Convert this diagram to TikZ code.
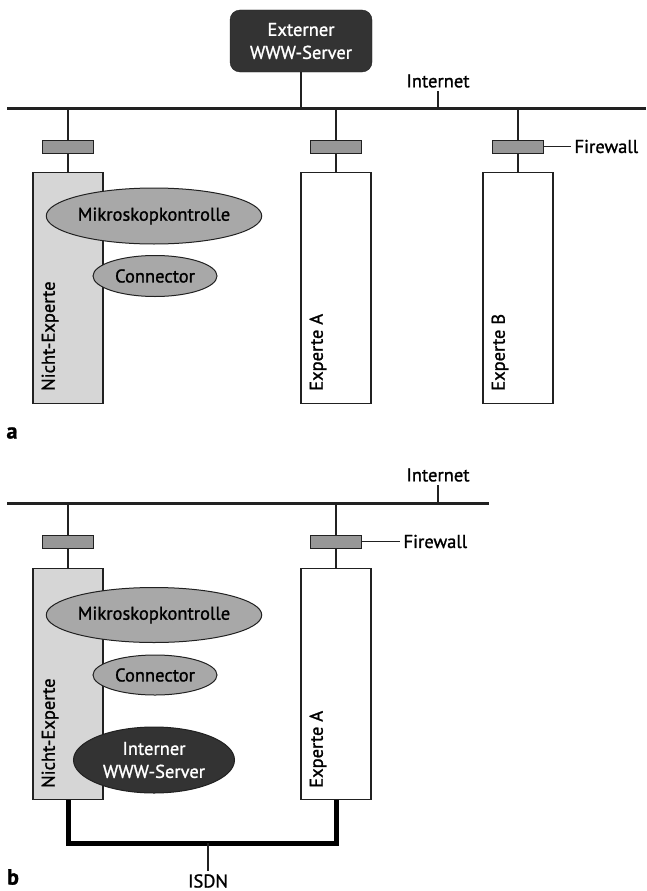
\documentclass[tikz,border=0pt]{standalone}
\usepackage{fontspec}
\setmainfont{PT Sans}[FakeBold=1.2]
\usetikzlibrary{shapes, positioning}
\definecolor{dunkel}{rgb}{0.2, 0.2, 0.2}
\definecolor{hellgrau}{rgb}{0.84, 0.84, 0.84}
\definecolor{mittelgrau}{rgb}{0.66, 0.66, 0.66}
\definecolor{linie}{rgb}{0.13, 0.13, 0.13}

\begin{document}
\begin{tikzpicture} [%
    x = 1pt, y = -1pt,
    font = \fontsize{18.5}{22}\selectfont,
    draw = linie,
    bus/.style = {line width = 3pt, draw = linie},
    link/.style = {line width = 1.2pt, draw = linie},
    isdn/.style = {line width = 5pt, draw = black},
    firewall/.style = {%
      draw = linie, line width = 1pt,
      fill = mittelgrau!90!black,
      minimum width = 51pt, minimum height = 13pt,
      inner sep = 0pt },
    rechner/.style = {%
      draw = linie, line width = 1.2pt,
      minimum width = 70pt, minimum height = 231pt,
      inner sep = 0pt, anchor = north },
    dienst/.style = {%
      ellipse, draw = linie, line width = 1pt,
      fill = mittelgrau, inner sep = 0pt },
    server/.style = {%
      fill = dunkel, text = white, align = center,
      font = \fontsize{18.5}{23}\selectfont },
    rotlabel/.style = {rotate = 90, anchor = west, inner sep = 0pt},
    teil/.style = {font = \fontsize{22}{24}\selectfont\bfseries}
  ]
  \useasboundingbox (0,0) rectangle (646,891);

  % ---------- a ----------
  \node[server, rounded corners = 10pt, minimum width = 142pt,
        minimum height = 62pt, draw = linie] (extern) at (301,41)
        {Externer\\WWW-Server};
  \coordinate (netzA-w) at (7,108);
  \coordinate (netzA-o) at (646,108);
  \draw[bus] (netzA-w) -- (netzA-o);
  \draw[link] (extern.south) -- (extern.south |- netzA-w);
  \node (inetA) at (438,81) {Internet};
  \draw[link] (inetA.south) -- (inetA.south |- netzA-w);

  \node[firewall] (fwA1) at (68,146.5) {};
  \node[firewall] (fwA2) at (336,146.5) {};
  \node[firewall] (fwA3) at (518,146.5) {};
  \node[rechner, fill = hellgrau] (nexA) at (68,172) {};
  \node[rechner, fill = white] (expA) at (336,172) {};
  \node[rechner, fill = white] (expB) at (518,172) {};
  \foreach \fw/\pc in {fwA1/nexA, fwA2/expA, fwA3/expB}
    \draw[link] (\fw |- netzA-w) -- (\fw.north) (\fw.south) -- (\pc.north);
  \node[anchor = west] (fwlabelA) at (571,146.5) {Firewall};
  \draw[link] (fwA3.east) -- (fwlabelA.west);

  \node[dienst, minimum width = 182pt, minimum height = 56pt] (mikroA)
    at (154,216) {Mikroskopkontrolle};
  \node[dienst, minimum width = 124pt, minimum height = 41pt] (conA)
    at (155,276) {Connector};
  \node[rotlabel] (nexlabelA) at (50,391) {Nicht-Experte};
  \node[rotlabel] (explabelA) at (318,391) {Experte A};
  \node[rotlabel] (explabelB) at (500,391) {Experte B};
  \node[teil] (a) at (12,433) {a};

  % ---------- b ----------
  \coordinate (netzB-w) at (7,503);
  \coordinate (netzB-o) at (489,503);
  \draw[bus] (netzB-w) -- (netzB-o);
  \node (inetB) at (438,475) {Internet};
  \draw[link] (inetB.south) -- (inetB.south |- netzB-w);

  \node[firewall] (fwB1) at (68,541.5) {};
  \node[firewall] (fwB2) at (336,541.5) {};
  \node[rechner, fill = hellgrau] (nexB) at (68,568) {};
  \node[rechner, fill = white] (expBA) at (336,568) {};
  \foreach \fw/\pc in {fwB1/nexB, fwB2/expBA}
    \draw[link] (\fw |- netzB-w) -- (\fw.north) (\fw.south) -- (\pc.north);
  \node[anchor = west] (fwlabelB) at (400,541.5) {Firewall};
  \draw[link] (fwB2.east) -- (fwlabelB.west);

  \node[dienst, minimum width = 182pt, minimum height = 55pt] (mikroB)
    at (154,615) {Mikroskopkontrolle};
  \node[dienst, minimum width = 124pt, minimum height = 40pt] (conB)
    at (155,675) {Connector};
  \node[dienst, server, minimum width = 161pt, minimum height = 66pt] (intern)
    at (154,760) {Interner\\WWW-Server};
  \node[rotlabel] (nexlabelB) at (50,788) {Nicht-Experte};
  \node[rotlabel] (explabelBA) at (318,788) {Experte A};

  \coordinate (isdn) at (208,843);
  \draw[isdn] (nexB.south) |- (isdn) -| (expBA.south);
  \node (isdnlabel) at (208,881) {ISDN};
  \draw[link] (isdn) -- (isdnlabel.north);
  \node[teil] (b) at (13,877) {b};
\end{tikzpicture}
\end{document}
